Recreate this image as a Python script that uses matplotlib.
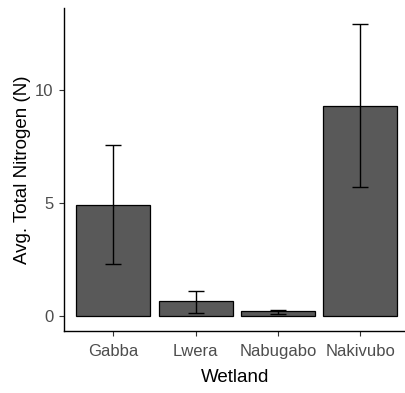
import matplotlib
matplotlib.use("Agg")
import matplotlib.pyplot as plt
import numpy as np

plt.rcParams["font.family"] = ["Liberation Sans", "DejaVu Sans"]

wetlands = ["Gabba", "Lwera", "Nabugabo", "Nakivubo"]
mean_n = [4.92, 0.68, 0.22, 9.33]
lower = [2.30, 0.15, 0.10, 5.72]
upper = [7.57, 1.12, 0.28, 12.95]

x = np.arange(1, len(wetlands) + 1)
yerr = [np.array(mean_n) - np.array(lower), np.array(upper) - np.array(mean_n)]

fig = plt.figure(figsize=(4.06, 3.93), dpi=100)
# axes box in pixels: left 64, right 406, bottom 331, top 8
ax = fig.add_axes([64 / 406, (393 - 331) / 393, (406 - 64) / 406, (331 - 8) / 393])

ax.bar(x, mean_n, width=0.9, color="#595959", edgecolor="black", linewidth=0.9, zorder=2)
ax.errorbar(x, mean_n, yerr=yerr, fmt="none", ecolor="black", elinewidth=1.0,
            capsize=6.1, capthick=1.0, zorder=3)

ax.set_xlim(0.4, 0.4 + 342 / 82.3)
ax.set_ylim(-0.65, 13.65)
ax.set_xticks(x)
ax.set_xticklabels(wetlands)
ax.set_yticks([0, 5, 10])

for side in ("top", "right"):
    ax.spines[side].set_visible(False)
for side in ("left", "bottom"):
    ax.spines[side].set_linewidth(1.0)
    ax.spines[side].set_color("black")

ax.tick_params(axis="both", length=3.5, width=0.8, color="#333333",
               labelsize=12, labelcolor="#4D4D4D", pad=4)
ax.tick_params(axis="x", pad=6)
ax.set_xlabel("Wetland", fontsize=13.5, color="black", labelpad=7)
ax.set_ylabel("Avg. Total Nitrogen (N)", fontsize=13.5, color="black", labelpad=3)

fig.savefig("out.png", dpi=100)
